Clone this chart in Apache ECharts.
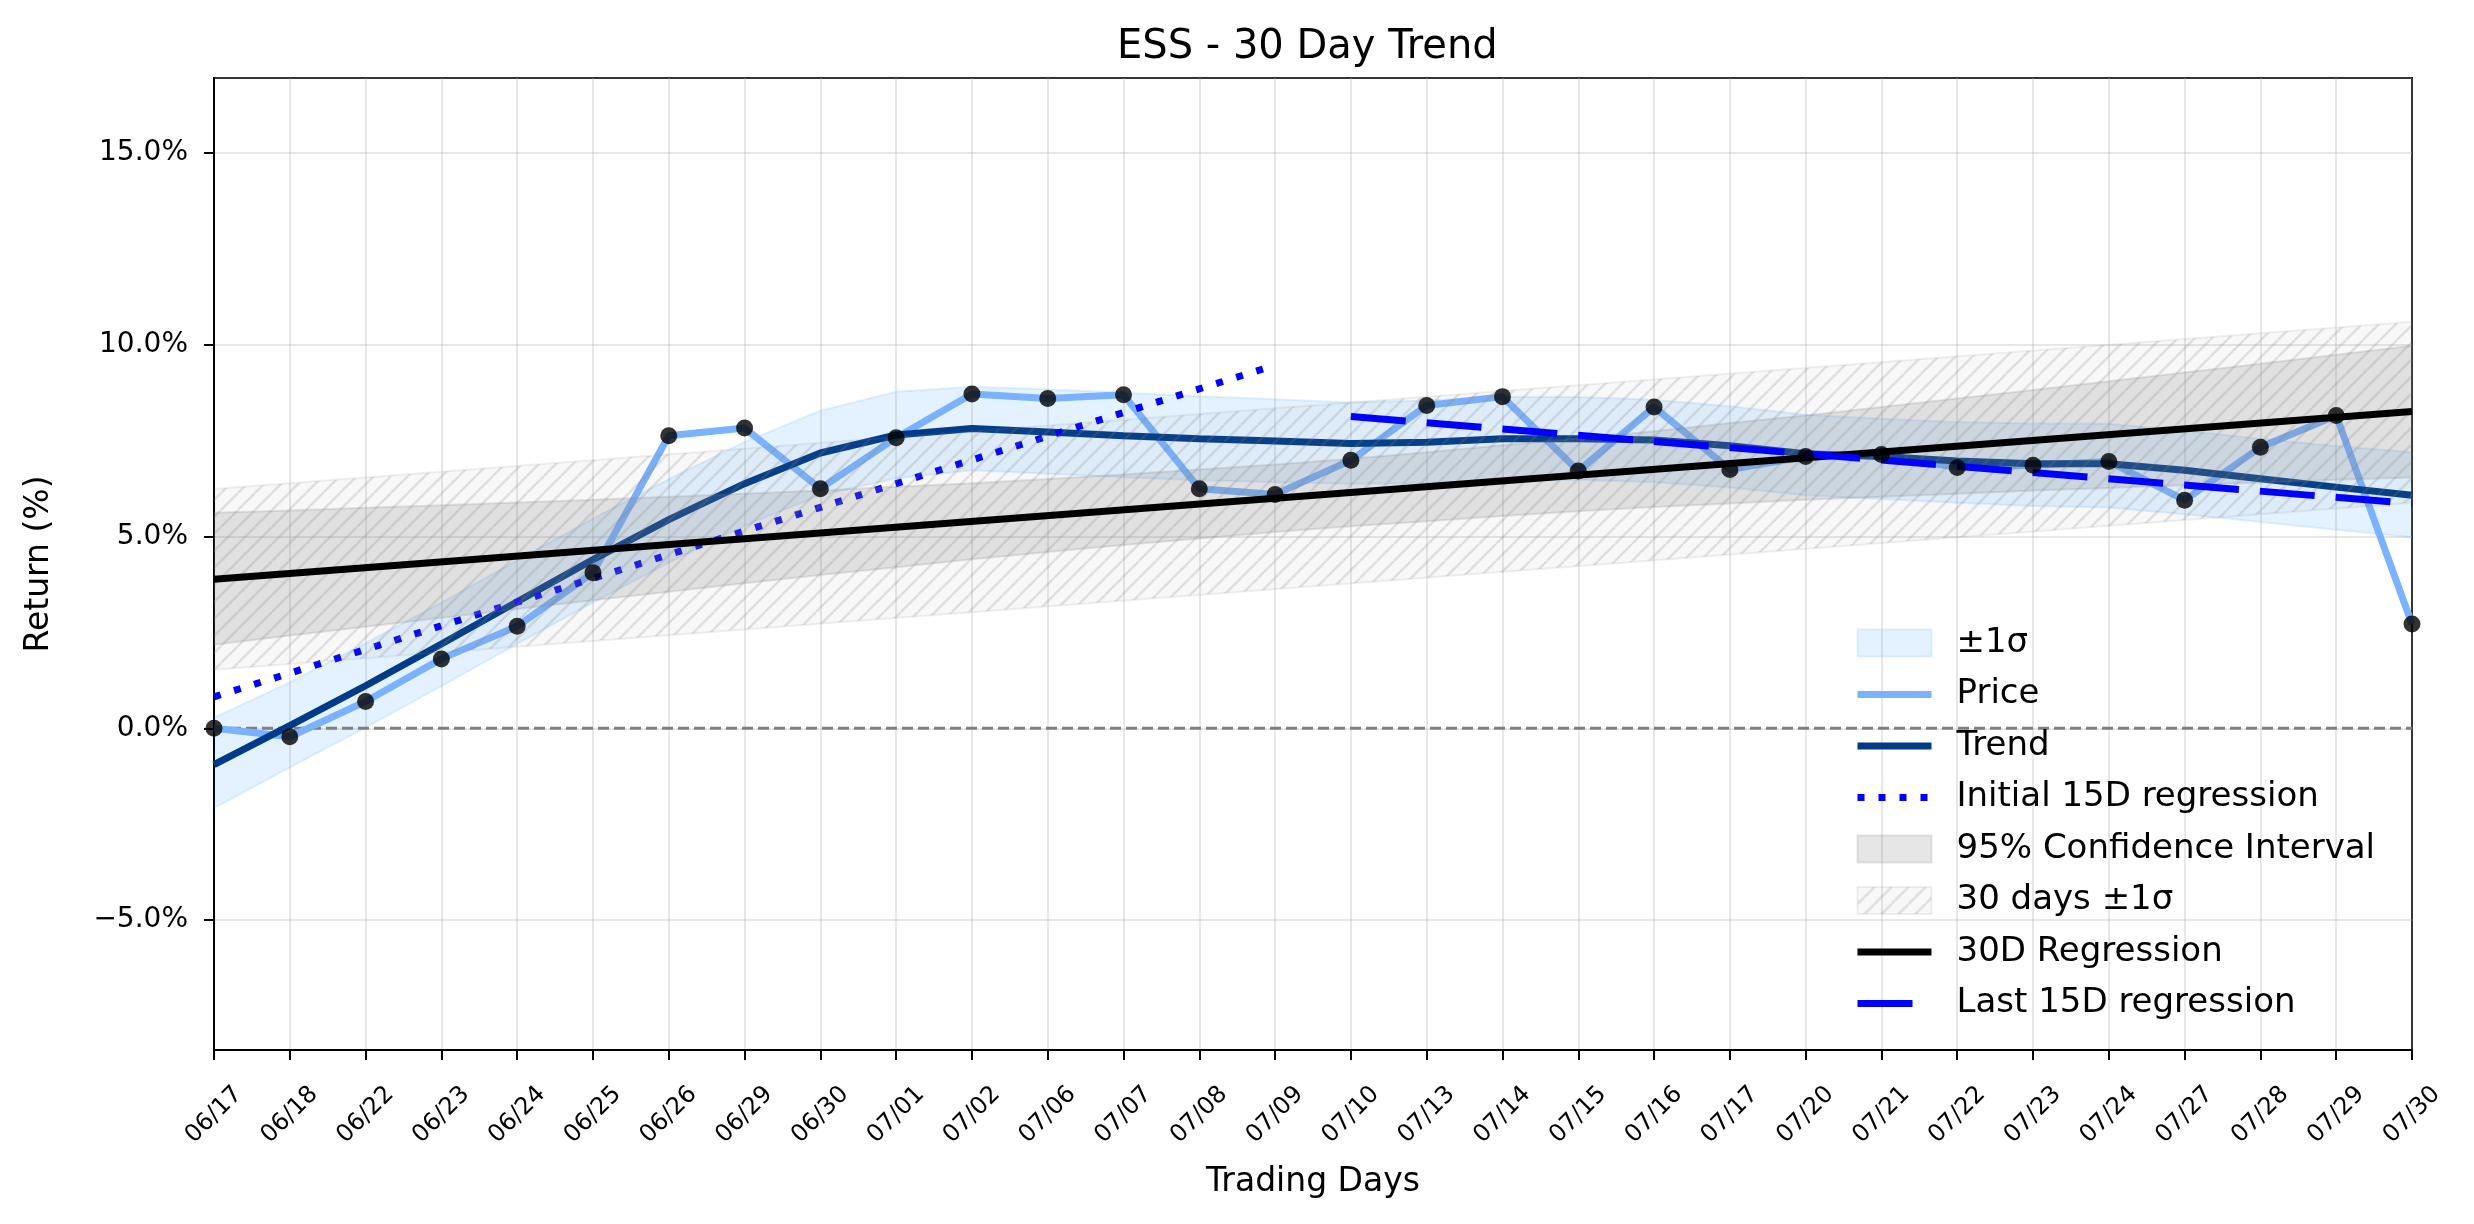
<!DOCTYPE html>
<html>
<head>
<meta charset="utf-8">
<title>ESS - 30 Day Trend</title>
<script src="https://cdn.jsdelivr.net/npm/echarts@6/dist/echarts.min.js"></script>
<style>
  html, body { margin: 0; padding: 0; background: #fff; }
  #chart { width: 2474px; height: 1224px; }
</style>
</head>
<body>
<div id="chart"></div>
<script>
// trading days (x axis)
var dates = ['06/17', '06/18', '06/22', '06/23', '06/24', '06/25', '06/26', '06/29', '06/30', '07/01',
  '07/02', '07/06', '07/07', '07/08', '07/09', '07/10', '07/13', '07/14', '07/15', '07/16',
  '07/17', '07/20', '07/21', '07/22', '07/23', '07/24', '07/27', '07/28', '07/29', '07/30']

// return in %
var price = [0.00, -0.22, 0.70, 1.81, 2.66, 4.06, 7.63, 7.83, 6.25, 7.58,
  8.72, 8.60, 8.70, 6.25, 6.10, 6.99, 8.42, 8.65, 6.71, 8.38,
  6.75, 7.09, 7.14, 6.80, 6.86, 6.96, 5.95, 7.33, 8.16, 2.72]
var trend = [-0.95, 0.07, 1.11, 2.20, 3.30, 4.40, 5.44, 6.38, 7.18, 7.65,
  7.82, 7.73, 7.63, 7.55, 7.49, 7.43, 7.46, 7.55, 7.55, 7.52,
  7.37, 7.16, 7.09, 6.97, 6.90, 6.90, 6.73, 6.51, 6.29, 6.08]
var sigmaUpper = [0.28, 1.20, 2.22, 3.28, 4.38, 5.47, 6.50, 7.47, 8.28, 8.78,
  8.91, 8.84, 8.75, 8.66, 8.58, 8.50, 8.55, 8.65, 8.64, 8.57,
  8.40, 8.18, 8.07, 7.99, 7.95, 7.94, 7.76, 7.55, 7.36, 7.20]
var sigmaLower = [-2.08, -1.02, 0.02, 1.10, 2.20, 3.28, 4.32, 5.28, 6.08, 6.52,
  6.73, 6.64, 6.55, 6.47, 6.42, 6.38, 6.40, 6.47, 6.48, 6.42,
  6.28, 6.08, 5.98, 5.88, 5.80, 5.76, 5.58, 5.38, 5.18, 4.98]
var ciUpper = [5.62, 5.68, 5.75, 5.82, 5.89, 5.96, 6.04, 6.12, 6.20, 6.30,
  6.39, 6.50, 6.62, 6.75, 6.88, 7.03, 7.20, 7.38, 7.56, 7.75,
  7.96, 8.16, 8.38, 8.60, 8.82, 9.05, 9.28, 9.51, 9.74, 9.98]
var ciLower = [2.18, 2.42, 2.65, 2.88, 3.11, 3.34, 3.56, 3.78, 4.00, 4.20,
  4.41, 4.60, 4.78, 4.95, 5.12, 5.27, 5.40, 5.54, 5.66, 5.77,
  5.86, 5.96, 6.04, 6.12, 6.20, 6.27, 6.34, 6.41, 6.48, 6.54]

// straight lines, [day index, value] at both ends
var reg30 = [[0, 3.89], [29, 8.26]]
var regFirst15 = [[0, 0.82], [14, 9.47]]
var regLast15 = [[15, 8.13], [29, 5.86]]
var band30Upper = [[0, 6.24], [29, 10.60]]
var band30Lower = [[0, 1.53], [29, 5.88]]
var zeroLine = [[0, 0], [29, 0]]

var FONT = 'DejaVu Sans'

function pairs (arr) {
  return arr.map(function (v, i) { return [i, v] })
}

function hatch () {
  var s = 17
  var c = document.createElement('canvas')
  c.width = s
  c.height = s
  var ctx = c.getContext('2d')
  ctx.fillStyle = 'rgba(128,128,128,0.06)'
  ctx.fillRect(0, 0, s, s)
  ctx.strokeStyle = 'rgba(128,128,128,0.22)'
  ctx.lineWidth = 2.4
  for (var k = -1; k <= 1; k++) {
    ctx.beginPath()
    ctx.moveTo(k * s, s)
    ctx.lineTo(k * s + s, 0)
    ctx.stroke()
  }
  return { image: c, repeat: 'repeat' }
}

var hatchFill = hatch()
var blueFill = 'rgba(30,144,255,0.12)'
var grayFill = 'rgba(128,128,128,0.2)'

function line (name, data, color, width, type, z) {
  return {
    name: name,
    type: 'line',
    data: data,
    symbol: 'none',
    silent: true,
    z: z || 2,
    itemStyle: { color: color },
    lineStyle: { color: color, width: width, type: type || 'solid' }
  }
}

// filled band between two edges, drawn as one polygon on the chart's scales
function band (name, lo, hi, fill, edge, z) {
  return {
    name: name,
    type: 'custom',
    silent: true,
    z: z,
    data: [[0, 0]],
    itemStyle: { color: fill },
    renderItem: function (params, api) {
      var top = hi.map(function (p) { return api.coord(p) })
      var bot = lo.map(function (p) { return api.coord(p) })
      return {
        type: 'group',
        children: [
          { type: 'polygon', shape: { points: top.concat(bot.slice().reverse()) }, style: { fill: fill } },
          { type: 'polyline', shape: { points: top }, style: { fill: 'none', stroke: edge, lineWidth: 2 } },
          { type: 'polyline', shape: { points: bot }, style: { fill: 'none', stroke: edge, lineWidth: 2 } }
        ]
      }
    }
  }
}

var series = [
  band('±1σ', pairs(sigmaLower), pairs(sigmaUpper), blueFill, 'rgba(30,144,255,0.12)', 1),
  line('zero', zeroLine, '#808080', 3, [11, 5], 2),
  line('Price', pairs(price), '#7ab2ff', 7, 'solid', 3),
  line('Trend', pairs(trend), '#003b8a', 7, 'solid', 3),
  line('Initial 15D regression', regFirst15, '#0000ff', 7, [7, 14], 3),
  band('95% Confidence Interval', pairs(ciLower), pairs(ciUpper), grayFill, 'rgba(128,128,128,0.2)', 4),
  band('30 days ±1σ', band30Lower, band30Upper, hatchFill, 'rgba(128,128,128,0.12)', 4),
  line('30D Regression', reg30, '#000000', 7, 'solid', 5),
  line('Last 15D regression', regLast15, '#0000ff', 7, [55, 21], 5),
  {
    name: 'points',
    type: 'scatter',
    data: pairs(price),
    symbol: 'circle',
    symbolSize: 17,
    silent: true,
    z: 6,
    itemStyle: { color: '#000000' }
  }
]

var noSymbol = { opacity: 0 }

var chart = echarts.init(document.getElementById('chart'))
chart.setOption({
  animation: false,
  backgroundColor: '#ffffff',
  title: {
    text: 'ESS - 30 Day Trend',
    left: 1117,
    top: 28,
    padding: 0,
    textStyle: { fontFamily: FONT, fontSize: 40, fontWeight: 'normal', color: '#000' }
  },
  legend: {
    orient: 'vertical',
    left: 1854,
    top: 626,
    padding: 0,
    itemGap: 17.5,
    itemWidth: 74,
    itemHeight: 27,
    lineStyle: { width: 'inherit' },
    textStyle: { fontFamily: FONT, fontSize: 34, color: '#000', padding: [0, 0, 0, 20] },
    data: [
      { name: '±1σ', icon: 'rect', itemStyle: { color: blueFill, borderColor: 'rgba(30,144,255,0.12)', borderWidth: 2 } },
      { name: 'Price', itemStyle: noSymbol },
      { name: 'Trend', itemStyle: noSymbol },
      { name: 'Initial 15D regression', itemStyle: noSymbol },
      { name: '95% Confidence Interval', icon: 'rect', itemStyle: { color: grayFill, borderColor: 'rgba(128,128,128,0.2)', borderWidth: 2 } },
      { name: '30 days ±1σ', icon: 'rect', itemStyle: { color: hatchFill, borderColor: 'rgba(128,128,128,0.12)', borderWidth: 2 } },
      { name: '30D Regression', itemStyle: noSymbol },
      { name: 'Last 15D regression', itemStyle: noSymbol }
    ]
  },
  grid: {
    left: 214,
    right: 62,
    top: 78,
    bottom: 174,
    show: true,
    borderColor: '#000',
    borderWidth: 2,
    backgroundColor: 'transparent'
  },
  xAxis: {
    type: 'value',
    min: 0,
    max: dates.length - 1,
    interval: 1,
    name: 'Trading Days',
    nameLocation: 'middle',
    nameGap: 116,
    nameTextStyle: { fontFamily: FONT, fontSize: 33, color: '#000' },
    axisLine: { show: true, onZero: false, lineStyle: { color: '#000', width: 2 } },
    axisTick: { show: true, length: 10, lineStyle: { color: '#000', width: 2 } },
    axisLabel: {
      rotate: 45,
      align: 'center',
      verticalAlign: 'middle',
      margin: 65,
      fontFamily: FONT,
      fontSize: 24,
      color: '#000',
      formatter: function (v) { return dates[v] }
    },
    splitLine: { show: true, lineStyle: { color: 'rgba(176,176,176,0.3)', width: 2 } }
  },
  yAxis: {
    type: 'value',
    min: -8.39,
    max: 16.96,
    splitNumber: 5,
    name: 'Return (%)',
    nameLocation: 'middle',
    nameGap: 158,
    nameTextStyle: { fontFamily: FONT, fontSize: 33, color: '#000' },
    axisLine: { show: true, lineStyle: { color: '#000', width: 2 } },
    axisTick: { show: true, length: 10, lineStyle: { color: '#000', width: 2 } },
    axisLabel: {
      margin: 26,
      showMinLabel: false,
      showMaxLabel: false,
      fontFamily: FONT,
      fontSize: 28,
      color: '#000',
      formatter: function (v) {
        var s = Math.abs(v).toFixed(1) + '%'
        return v < 0 ? '\u2212' + s : s
      }
    },
    splitLine: { show: true, lineStyle: { color: 'rgba(176,176,176,0.3)', width: 2 } }
  },
  series: series
})
</script>
</body>
</html>
